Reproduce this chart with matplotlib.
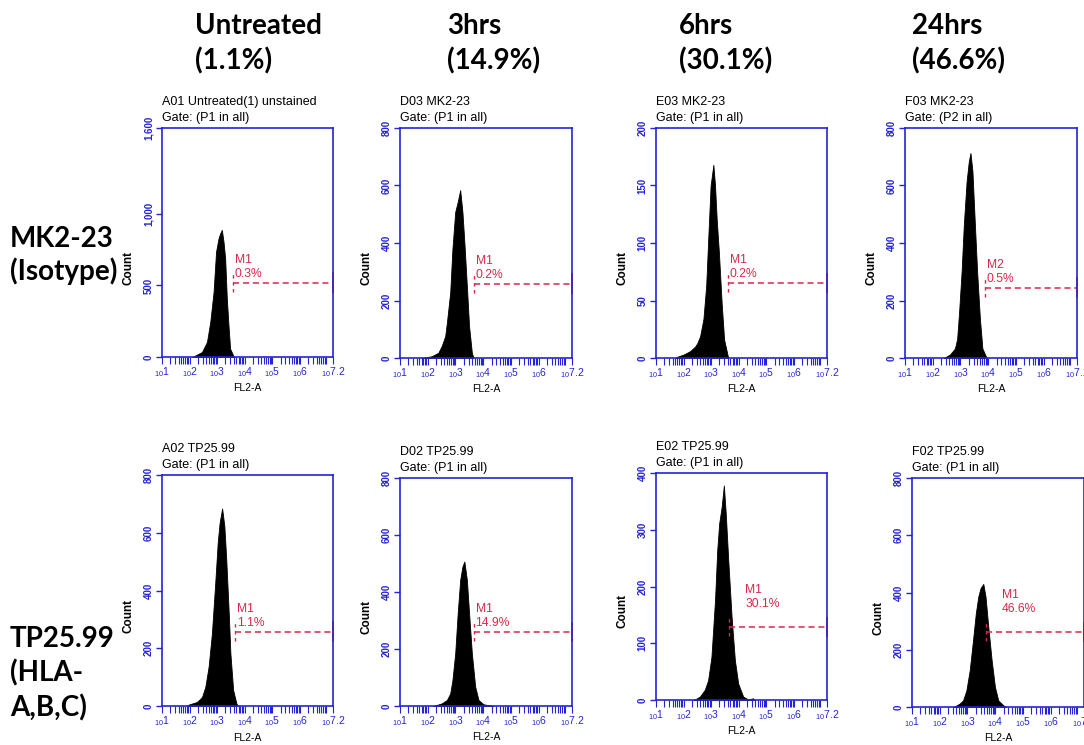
import numpy as np
import matplotlib
matplotlib.use("Agg")
import matplotlib.pyplot as plt
from matplotlib.ticker import FixedLocator, LogLocator, NullFormatter

# ---------------- data ----------------
col_titles = ["Untreated", "3hrs", "6hrs", "24hrs"]
col_pcts = ["(1.1%)", "(14.9%)", "(30.1%)", "(46.6%)"]
row_labels = [["MK2-23", "(Isotype)"], ["TP25.99", "(HLA-", "A,B,C)"]]

panel_names = ["A01 Untreated(1) unstained", "D03 MK2-23", "E03 MK2-23", "F03 MK2-23",
               "A02 TP25.99", "D02 TP25.99", "E02 TP25.99", "F02 TP25.99"]
panel_gates = ["Gate: (P1 in all)", "Gate: (P1 in all)", "Gate: (P1 in all)", "Gate: (P2 in all)",
               "Gate: (P1 in all)", "Gate: (P1 in all)", "Gate: (P1 in all)", "Gate: (P1 in all)"]
y_max = [1600, 800, 200, 800, 800, 800, 400, 800]
y_ticks = [[0, 500, 1000, 1600], [0, 200, 400, 600, 800], [0, 50, 100, 150, 200],
           [0, 200, 400, 600, 800], [0, 200, 400, 600, 800], [0, 200, 400, 600, 800],
           [0, 100, 200, 300, 400], [0, 200, 400, 600, 800]]

# histogram outlines: log10(FL2-A) positions and counts
hist_log = [
    [2.10, 2.45, 2.63, 2.75, 2.87, 2.96, 3.05, 3.11, 3.17, 3.23, 3.29, 3.35, 3.41, 3.47, 3.59, 3.62],
    [1.78, 2.14, 2.38, 2.50, 2.63, 2.69, 2.81, 2.89, 2.99, 3.08, 3.17, 3.25, 3.32, 3.41, 3.49, 3.59, 3.65],
    [1.70, 1.76, 2.00, 2.24, 2.42, 2.50, 2.60, 2.72, 2.82, 2.90, 2.98, 3.08, 3.14, 3.20, 3.28, 3.38, 3.47, 3.59, 3.62],
    [2.40, 2.62, 2.80, 2.88, 2.95, 3.04, 3.12, 3.22, 3.30, 3.36, 3.43, 3.52, 3.60, 3.70, 3.79, 3.91, 3.95],
    [1.90, 1.97, 2.27, 2.45, 2.57, 2.69, 2.81, 2.93, 3.02, 3.09, 3.18, 3.26, 3.33, 3.42, 3.48, 3.58, 3.70, 3.76],
    [2.20, 2.50, 2.69, 2.81, 2.89, 2.99, 3.08, 3.17, 3.25, 3.32, 3.41, 3.49, 3.59, 3.71, 3.83, 4.01, 4.37],
    [2.35, 2.41, 2.59, 2.77, 2.89, 3.01, 3.14, 3.22, 3.29, 3.38, 3.46, 3.53, 3.62, 3.74, 3.86, 3.98, 4.16, 4.34, 4.52, 4.56],
    [2.50, 2.72, 2.84, 2.96, 3.08, 3.20, 3.30, 3.39, 3.47, 3.57, 3.65, 3.75, 3.87, 3.99, 4.11, 4.29, 4.40],
]
hist_count = [
    [0, 35, 105, 245, 455, 736, 829, 864, 888, 806, 689, 409, 222, 58, 7, 0],
    [0, 6, 18, 41, 76, 123, 228, 380, 508, 543, 584, 508, 403, 251, 111, 18, 0],
    [0, 1, 3, 6, 10, 13, 19, 34, 63, 107, 150, 168, 150, 121, 92, 48, 16, 3, 0],
    [0, 12, 33, 67, 160, 300, 463, 614, 684, 713, 651, 463, 300, 137, 33, 7, 0],
    [0, 5, 14, 31, 66, 136, 252, 426, 566, 635, 684, 624, 507, 322, 182, 55, 8, 0],
    [0, 9, 21, 44, 91, 185, 326, 443, 489, 507, 443, 326, 185, 68, 21, 6, 0],
    [0, 1, 6, 18, 35, 76, 176, 264, 311, 340, 378, 328, 246, 147, 70, 29, 6, 1, 3, 0],
    [0, 12, 23, 58, 128, 234, 327, 386, 415, 430, 386, 280, 164, 70, 23, 6, 0],
]
# marker gates: name, percent, log10 start, height
gate_name = ["M1", "M1", "M1", "M2", "M1", "M1", "M1", "M1"]
gate_pct = ["0.3%", "0.2%", "0.2%", "0.5%", "1.1%", "14.9%", "30.1%", "46.6%"]
gate_start = [3.57, 3.65, 3.60, 3.88, 3.64, 3.65, 3.66, 3.65]
gate_height = [520, 259, 65, 245, 258, 259, 129, 263]

x_decades = [1, 2, 3, 4, 5, 6]
x_end = 7.2

# ---------------- layout / style ----------------
W, H = 1084, 745
BLUE = "#2424d4"
RED = "#d8284a"
plt.rcParams["font.family"] = ["Liberation Sans", "DejaVu Sans"]
plt.rcParams["mathtext.fontset"] = "custom"
plt.rcParams["mathtext.rm"] = "Liberation Sans"
plt.rcParams["mathtext.it"] = "Liberation Sans:italic"

# axes boxes in pixels: left, bottom(from top), right, top(from top)
boxes = [(162, 357, 333, 128), (400, 358, 572, 128), (656, 358, 827, 128), (905, 358, 1077, 128),
         (162, 706, 333, 475), (400, 706, 572, 478), (656, 700, 827, 473), (912, 707, 1084, 478)]
label_offsets = [(2, 3), (2, 3), (2, 3), (2, 3), (2, 3), (2, 3), (16, 17), (16, 17)]

fig = plt.figure(figsize=(W / 100, H / 100), dpi=100)
fig.patch.set_facecolor("white")


def fx(x):
    return x / W


def fy(y):
    return 1 - y / H


for i in range(8):
    L, B, R, T = boxes[i]
    ax = fig.add_axes([fx(L), fy(B), (R - L) / W, (B - T) / H])
    ax.set_xscale("log")
    ax.set_xlim(10 ** 1, 10 ** x_end)
    ax.set_ylim(0, y_max[i])

    xs = 10 ** np.array(hist_log[i])
    ax.fill_between(xs, hist_count[i], 0, color="black", lw=0.6, edgecolor="black")

    # spines
    for s in ax.spines.values():
        s.set_color(BLUE)
        s.set_linewidth(1.2)

    # x ticks
    xt = [10.0 ** d for d in x_decades] + [10 ** x_end]
    ax.xaxis.set_major_locator(FixedLocator(xt))
    ax.set_xticklabels([r"$_{10}$%d" % d for d in x_decades] + [r"$_{10}$7.2"])
    ax.xaxis.set_minor_locator(LogLocator(base=10, subs=np.arange(2, 10), numticks=30))
    ax.xaxis.set_minor_formatter(NullFormatter())
    ax.tick_params(axis="x", which="both", direction="out", length=5, width=0.8,
                   color=BLUE, labelcolor=BLUE, labelsize=7.5, pad=1)

    # y ticks
    ax.yaxis.set_major_locator(FixedLocator(y_ticks[i]))
    ax.set_yticklabels([f"{v:,}" for v in y_ticks[i]])
    ax.tick_params(axis="y", which="major", direction="out", length=4, width=1,
                   color=BLUE, labelcolor=BLUE, labelsize=7, pad=2, labelrotation=90)
    for lab in ax.get_yticklabels():
        lab.set_fontweight("bold")
        lab.set_va("center")

    ax.set_xlabel("FL2-A", fontsize=7.5, color="black")
    ax.xaxis.set_label_coords(0.5, -0.115)
    ax.set_ylabel("Count", fontsize=8.5, fontweight="bold", color="black")
    ax.yaxis.set_label_coords(-0.16, 0.39)

    # titles above axes
    ax.annotate(panel_gates[i], xy=(0, 1), xycoords="axes fraction", xytext=(0, 7),
                textcoords="offset pixels", ha="left", va="baseline", fontsize=9)
    ax.annotate(panel_names[i], xy=(0, 1), xycoords="axes fraction", xytext=(0, 23),
                textcoords="offset pixels", ha="left", va="baseline", fontsize=9)

    # marker gate
    g = 10 ** gate_start[i]
    h = gate_height[i]
    d = 0.04 * y_max[i]
    ax.plot([g, 10 ** x_end], [h, h], color=RED, lw=1.1, ls=(0, (4, 2.5)), clip_on=False)
    ax.plot([g, g], [h - d, h + d], color=RED, lw=1.0, ls=(0, (2.5, 2.5)))
    ax.plot([10 ** x_end, 10 ** x_end], [h - d, h + d], color=RED, lw=1.3, clip_on=False)
    dx, dy = label_offsets[i]
    ax.annotate(f"{gate_name[i]}\n{gate_pct[i]}", xy=(g, h), xytext=(dx, dy),
                textcoords="offset pixels", ha="left", va="bottom", color=RED,
                fontsize=8.7, linespacing=1.2)

# column headers
head_font = dict(family=["Lato", "DejaVu Sans"], fontweight="bold", fontsize=20, color="black")
col_x = [195, 447, 679, 912]
for x, t, p in zip(col_x, col_titles, col_pcts):
    fig.text(fx(x), fy(34), t, ha="left", va="baseline", **head_font)
    fig.text(fx(x), fy(69), p, ha="left", va="baseline", **head_font)

# row labels
row_baselines = [[247, 280], [647, 681, 716]]
for lines, bls in zip(row_labels, row_baselines):
    for t, b in zip(lines, bls):
        fig.text(fx(10), fy(b), t, ha="left", va="baseline", **head_font)

fig.savefig("out.png", dpi=100, facecolor="white")
